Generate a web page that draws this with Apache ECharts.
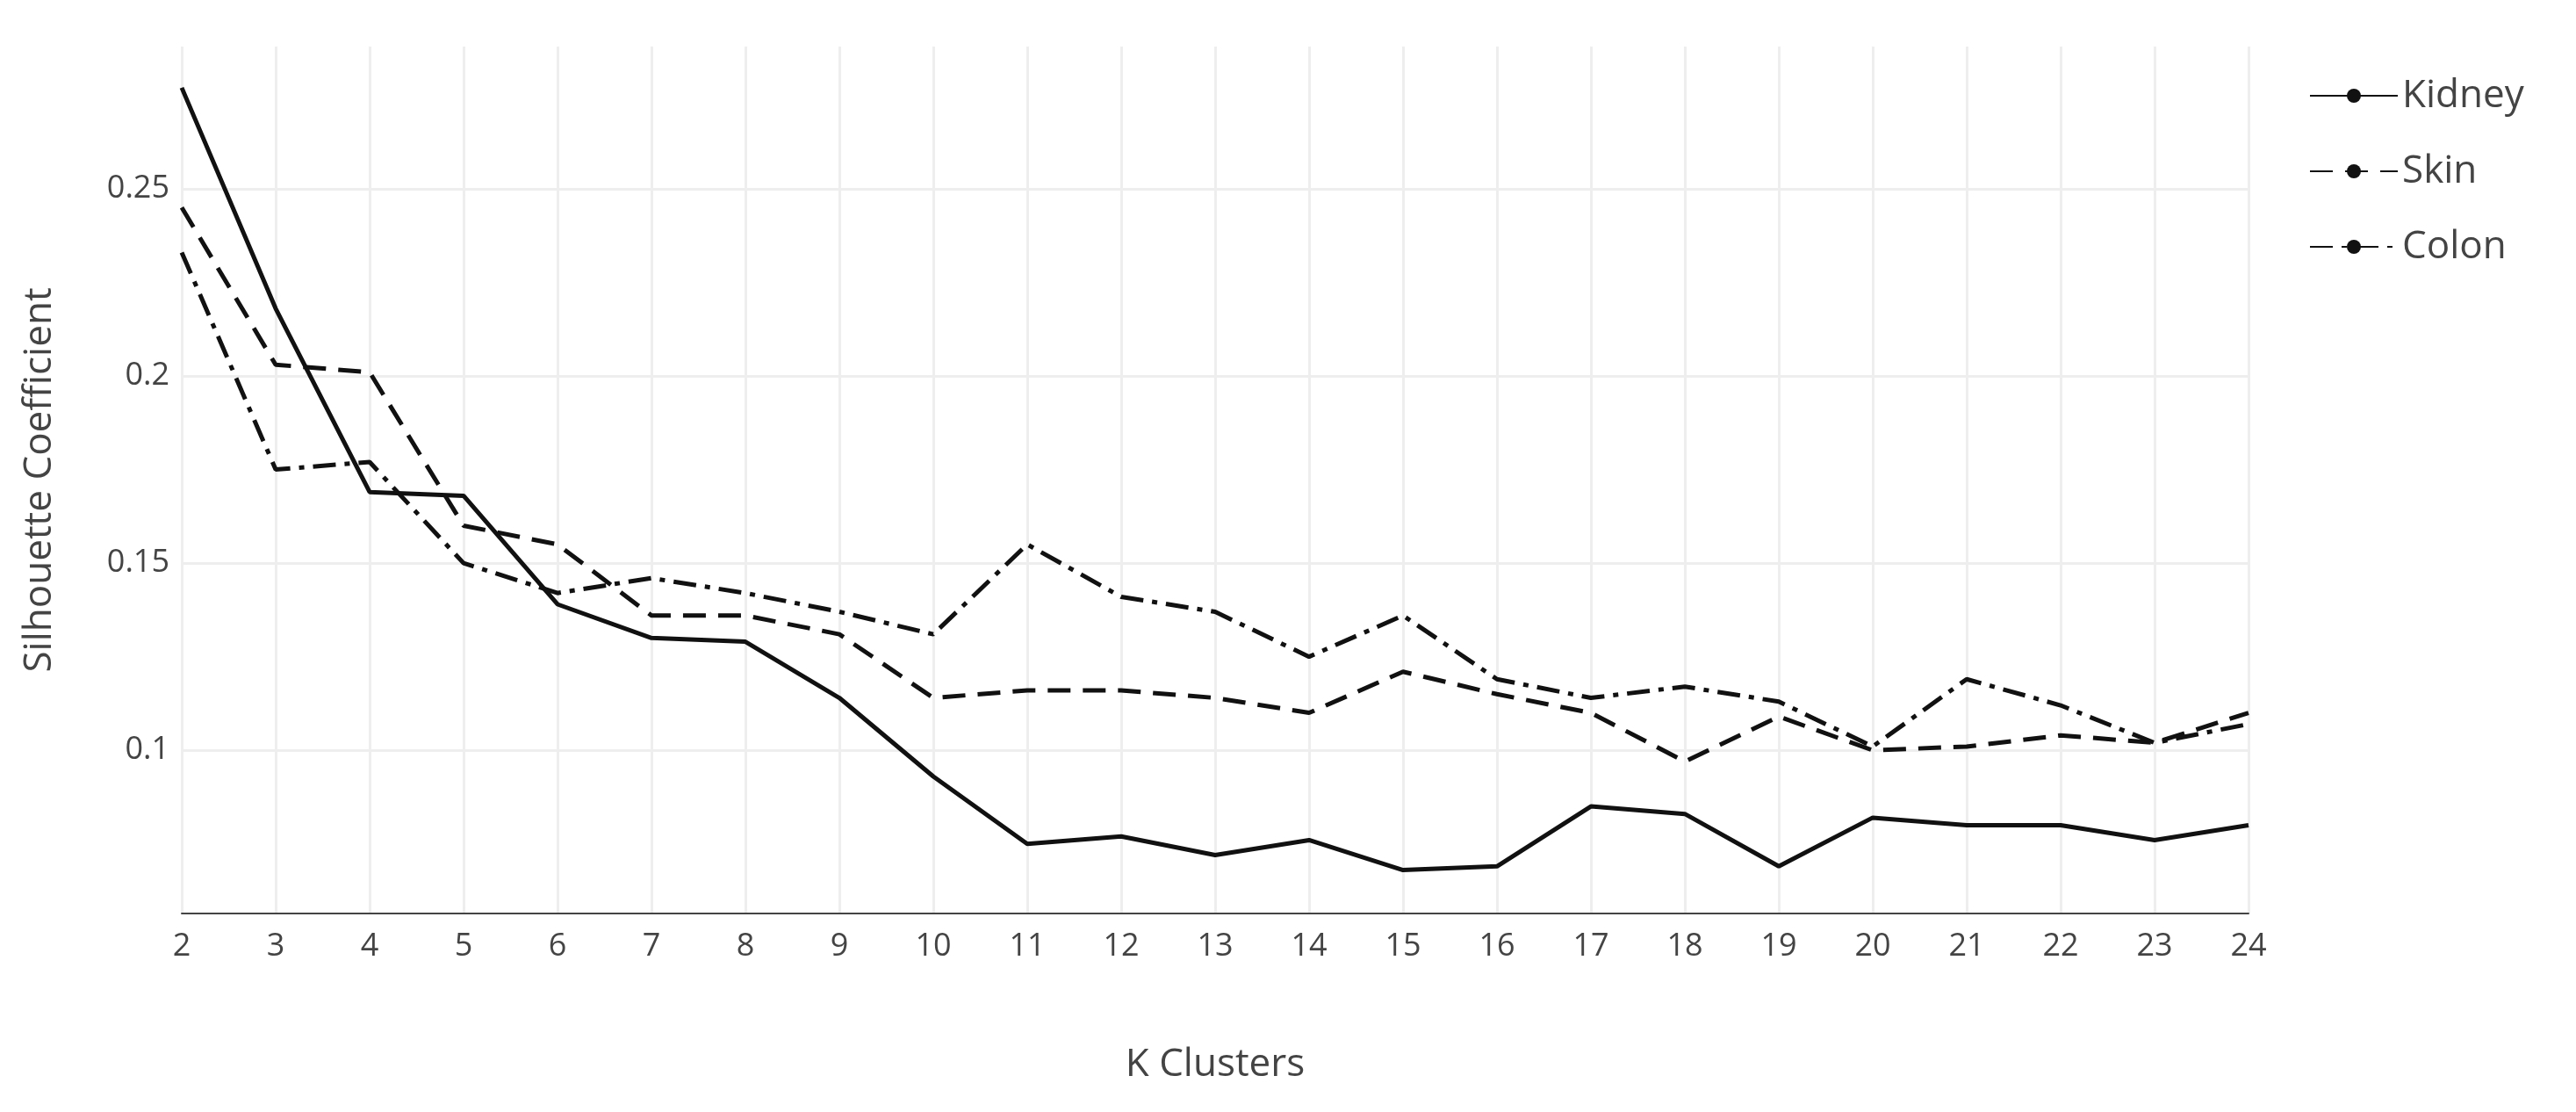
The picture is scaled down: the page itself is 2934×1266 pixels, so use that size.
<!DOCTYPE html>
<html>
<head>
<meta charset="utf-8">
<script src="https://cdn.jsdelivr.net/npm/echarts@6/dist/echarts.min.js"></script>
<style>
  html, body { margin: 0; padding: 0; background: #fff; }
  #chart { width: 2934px; height: 1266px; }
</style>
</head>
<body>
<div id="chart"></div>
<script>
// K クラスタ数ごとのシルエット係数
const kValues = [2, 3, 4, 5, 6, 7, 8, 9, 10, 11, 12, 13, 14, 15, 16, 17, 18, 19, 20, 21, 22, 23, 24];
const kidney = [0.277, 0.218, 0.169, 0.168, 0.139, 0.130, 0.129, 0.114, 0.093, 0.075, 0.077, 0.072, 0.076, 0.068, 0.069, 0.085, 0.083, 0.069, 0.082, 0.080, 0.080, 0.076, 0.080];
const skin = [0.245, 0.203, 0.201, 0.160, 0.155, 0.136, 0.136, 0.131, 0.114, 0.116, 0.116, 0.114, 0.110, 0.121, 0.115, 0.110, 0.097, 0.109, 0.100, 0.101, 0.104, 0.102, 0.110];
const colon = [0.233, 0.175, 0.177, 0.150, 0.142, 0.146, 0.142, 0.137, 0.131, 0.155, 0.141, 0.137, 0.125, 0.136, 0.119, 0.114, 0.117, 0.113, 0.101, 0.119, 0.112, 0.102, 0.107];
const yTicks = [0.1, 0.15, 0.2, 0.25];

const chart = echarts.init(document.getElementById('chart'));
const font = '"Open Sans", sans-serif';
const pair = arr => kValues.map((k, i) => [k, arr[i]]);

function lineSeries(name, data, type) {
  return {
    name, type: 'line', data: pair(data), symbol: 'none',
    lineStyle: { color: '#111', width: 5, type },
    itemStyle: { color: '#111' }
  };
}

chart.setOption({
  animation: false,
  textStyle: { fontFamily: font },
  grid: { left: 207, right: 373, top: 53, bottom: 226, containLabel: false },
  legend: {
    orient: 'vertical', left: 2625, top: 82, itemWidth: 100, itemHeight: 20, itemGap: 42,
    textStyle: { fontFamily: font, fontSize: 44, color: '#444' },
    data: ['Kidney', 'Skin', 'Colon']
  },
  xAxis: {
    type: 'value', min: 2, max: 24, interval: 1,
    name: 'K Clusters', nameLocation: 'middle', nameGap: 150,
    nameTextStyle: { fontFamily: font, fontSize: 44, color: '#444' },
    axisLine: { lineStyle: { color: '#444', width: 2 } },
    axisTick: { show: false },
    axisLabel: { fontFamily: font, fontSize: 36, color: '#444', margin: 20 },
    splitLine: { lineStyle: { color: '#eee', width: 3 } }
  },
  yAxis: {
    type: 'value', min: 0.0564, max: 0.288,
    name: 'Silhouette Coefficient', nameLocation: 'middle', nameGap: 140,
    nameTextStyle: { fontFamily: font, fontSize: 44, color: '#444' },
    axisLine: { show: false },
    axisTick: { show: false, customValues: yTicks },
    axisLabel: { fontFamily: font, fontSize: 36, color: '#444', margin: 14, customValues: yTicks },
    splitLine: { show: true, lineStyle: { color: '#eee', width: 3 } }
  },
  series: [
    lineSeries('Kidney', kidney, 'solid'),
    lineSeries('Skin', skin, [26, 14]),
    lineSeries('Colon', colon, [26, 10, 6, 10])
  ]
});
</script>
</body>
</html>
